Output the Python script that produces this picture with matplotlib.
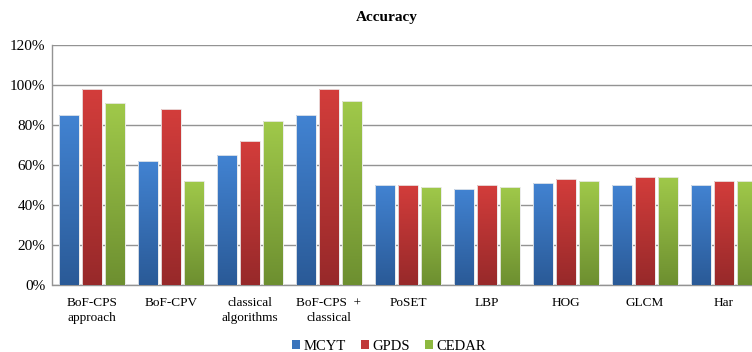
import numpy as np
import matplotlib
matplotlib.use("Agg")
import matplotlib.pyplot as plt
from matplotlib.colors import LinearSegmentedColormap
from matplotlib.patches import Patch

categories = ["BoF-CPS\napproach", "BoF-CPV", "classical\nalgorithms", "BoF-CPS  +\nclassical",
              "PoSET", "LBP", "HOG", "GLCM", "Har"]
series_names = ["MCYT", "GPDS", "CEDAR"]
mcyt = [85, 62, 65, 85, 50, 48, 51, 50, 50]
gpds = [98, 88, 72, 98, 50, 50, 53, 54, 52]
cedar = [91, 52, 82, 92, 49, 49, 52, 54, 52]
yticks = [0, 20, 40, 60, 80, 100, 120]
ytick_labels = ["0%", "20%", "40%", "60%", "80%", "100%", "120%"]

top_colors = ["#4283D2", "#D33D3B", "#A0C94A"]
bot_colors = ["#2A5A97", "#97292A", "#6D8F30"]
legend_colors = ["#3A74BC", "#C0393A", "#8DB83F"]

plt.rcParams['font.family'] = ['Liberation Serif', 'DejaVu Serif']

fig = plt.figure(figsize=(7.52, 3.52), dpi=100)
W, H = 752, 352
left, right, bottom, top = 52.5, 763.5, 285, 45
ax = fig.add_axes([left / W, 1 - bottom / H, (right - left) / W, (bottom - top) / H])

x = np.arange(len(categories))
pitch = 0.29
bw = 0.245
ax.set_xlim(-0.5, len(categories) - 0.5)
ax.set_ylim(0, 120)

for i, (vals, tc, bc) in enumerate(zip([mcyt, gpds, cedar], top_colors, bot_colors)):
    bars = ax.bar(x + (i - 1) * pitch, vals, bw, color=bc, edgecolor="#F0F0F0",
                  linewidth=0.6, zorder=3, label=series_names[i])
    cmap = LinearSegmentedColormap.from_list("g%d" % i, [bc, tc])
    grad = np.linspace(0, 1, 256).reshape(-1, 1)
    for b in bars:
        bx, by = b.get_x(), b.get_y()
        w, h = b.get_width(), b.get_height()
        im = ax.imshow(grad, cmap=cmap, origin="lower", aspect="auto",
                       extent=(bx, bx + w, by, by + h), zorder=3.5)
        im.set_clip_path(b)
    for b in bars:
        ax.bar(b.get_x() + b.get_width() / 2, b.get_height(), b.get_width(),
               fill=False, edgecolor="#EDEDED", linewidth=0.6, zorder=4)

ax.set_yticks(yticks)
ax.set_yticklabels(ytick_labels, fontsize=11)
ax.set_xticks(x)
ax.set_xticklabels(categories, fontsize=9.5, linespacing=1.25)
ax.tick_params(axis="x", length=0, pad=9)
ax.tick_params(axis="y", length=0, pad=5)
ax.yaxis.grid(True, color="#939393", linewidth=1.0, zorder=0)
ax.set_axisbelow(True)
for s in ["top", "right"]:
    ax.spines[s].set_visible(False)
ax.spines["left"].set_color("#939393")
ax.spines["bottom"].set_color("#939393")
ax.spines["left"].set_linewidth(1.0)
ax.spines["bottom"].set_linewidth(1.0)

fig.text(387 / W, 1 - 17 / H, "Accuracy", ha="center", va="center",
         fontsize=11, fontweight="bold")

handles = [Patch(facecolor=c, edgecolor="none") for c in legend_colors]
fig.legend(handles, series_names, loc="center", bbox_to_anchor=(389 / W, 1 - 346 / H),
           ncol=3, frameon=False, fontsize=10.5, handlelength=0.55, handleheight=0.55,
           handletextpad=0.25, columnspacing=1.0)

fig.savefig("out.png", dpi=100)
